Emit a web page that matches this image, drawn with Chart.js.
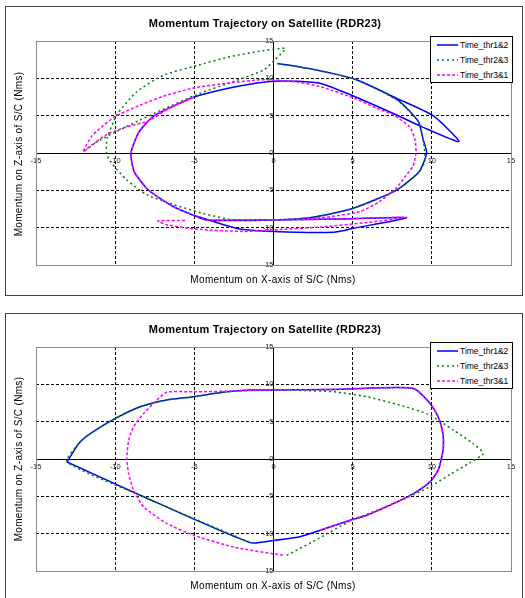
<!DOCTYPE html>
<html>
<head>
<meta charset="utf-8">
<script src="https://cdn.jsdelivr.net/npm/chart.js@4.4.1/dist/chart.umd.min.js"></script>
<style>
body { margin: 0; width: 525px; height: 598px; overflow: hidden; background: #fff; position: relative; font-family: 'Liberation Sans', Arial, sans-serif; }
.frame { position: absolute; border: 1px solid #444; box-sizing: border-box; }
canvas { position: absolute; left: 0; }
.title { position: absolute; left: 0; width: 530px; text-align: center; font-weight: bold; font-size: 11px; letter-spacing: 0.25px; line-height: 12px; }
.xtitle { position: absolute; left: 0; width: 546px; text-align: center; font-size: 10px; letter-spacing: 0.33px; line-height: 12px; }
.ytitle { position: absolute; left: -81px; width: 200px; text-align: center; font-size: 10px; letter-spacing: 0.33px; line-height: 12px; transform: rotate(-90deg); }
.legend { position: absolute; left: 430px; width: 83px; height: 47px; border: 1px solid #000; background: #fff; box-sizing: border-box; font-size: 8.5px; }
.row { position: absolute; left: 6px; height: 10px; width: 76px; }
.row svg { position: absolute; left: 0; top: 3px; }
.lab { position: absolute; left: 23px; top: 0; line-height: 10px; white-space: nowrap; }
</style>
</head>
<body>

<div class="frame" style="left:5px;top:6px;width:518px;height:290px"></div>
<div class="frame" style="left:5px;top:313px;width:518px;height:300px"></div>

<canvas id="chart1" width="525" height="300" style="top:0"></canvas>
<canvas id="chart2" width="525" height="298" style="top:300px"></canvas>

<div class="title" style="top:17px">Momentum Trajectory on Satellite (RDR23)</div>
<div class="xtitle" style="top:274px">Momentum on X-axis of S/C (Nms)</div>
<div class="ytitle" style="top:148px">Momentum on Z-axis of S/C (Nms)</div>

<div class="title" style="top:323px">Momentum Trajectory on Satellite (RDR23)</div>
<div class="xtitle" style="top:580px">Momentum on X-axis of S/C (Nms)</div>
<div class="ytitle" style="top:453px">Momentum on Z-axis of S/C (Nms)</div>

<div class="legend" id="legend1" style="top:36px"></div>
<div class="legend" id="legend2" style="top:342px"></div>

<script>
// series names and styles (shared by both charts)
const seriesNames = ['Time_thr1&2', 'Time_thr2&3', 'Time_thr3&1'];
const seriesColors = ['#0000ff', '#008000', '#ff00ff'];
const seriesDash = [[], [2, 3], [3, 2]];
const tickValues = [-15, -10, -5, 0, 5, 10, 15];

// top chart
const top12X = [0.24, 2.5, 5.15, 7.78, 10.1, 11.72, 9.36, 7.78, 5.15, 2.94, 1.5, 0, -1.5, -3, -5, -6.5, -7.6, -8.5, -9, -8.8, -7.9, -6.4, -5.1, -4.2, 0, 4, 8.4, 5, 3.8, 0, -2.3, -5.1, -4.2, 0, 2.5, 5.04, 7.78, 9.2, 9.67, 9.46, 9.15, 7.78, 5.15, 2.5, 0.24];
const top12Y = [12.0, 11.2, 9.87, 7.32, 4.96, 1.52, 3.53, 5.09, 7.54, 9.33, 9.6, 9.6, 9.2, 8.6, 7.5, 6.1, 4.9, 2.8, 0, -2.5, -4.96, -7.1, -8.3, -8.97, -8.97, -8.85, -8.66, -10.1, -10.6, -10.5, -10.1, -8.3, -8.97, -8.97, -8.6, -7.4, -4.96, -2.5, 0, 1.74, 4.2, 7.2, 9.87, 11.2, 12.0];

const top23X = [-12.0, -11.5, -10.96, -9.9, -8.43, -6.5, -4.64, -2.5, -0.64, 0.1, 0.74, -0.64, -2.75, -4.85, -6.96, -8.64, -9.9, -10.5, -10.55, -10.3, -9.27, -8.0, -6.33, -4.43, -2.75, -1.3, 0, 2.5, 5.04, 7.78, 9.2, 9.57, 9.46, 9.15, 7.78, 5.15, 2.5, 0.24];
const top23Y = [0.2, 1.07, 1.74, 2.9, 4.42, 6.3, 8.0, 9.6, 11.1, 12.5, 14.0, 13.7, 12.9, 11.7, 10.4, 8.2, 5.1, 1.97, 0, -1.16, -3.6, -5.6, -6.9, -8.1, -8.9, -9.0, -9.0, -8.6, -7.4, -4.96, -2.5, -0.94, 1.74, 4.2, 7.1, 9.87, 11.2, 12.0];

const top31X = [1.5, 3.35, 5.46, 6.7, 7.8, 8.3, 8.8, 9.0, 8.94, 8.6, 7.57, 6.5, 5.15, 2.94, 1.5, 0, -0.84, -2.75, -5.07, -6.96, -8.43, -10, -10.85, -11.5, -12.0, -10.6, -9.27, -7.9, -6.5, -5.0, -6.5, -7.6, -8.5, -9, -8.8, -7.9, -6.4, -5.1, -4.2, -2, 0, 4, 8.4, 6, 3, 0, -1.9, -4.85, -6.75, -7.3, -5.5];
const top31Y = [-8.92, -8.6, -7.86, -6.5, -4.6, -3.2, -1.8, 0, 1.74, 3.5, 5.1, 6.0, 7.3, 8.9, 9.5, 9.8, 9.8, 9.4, 8.7, 7.6, 6.4, 4.9, 3.5, 2.2, 0.2, 2.4, 3.5, 4.3, 6.1, 7.5, 6.1, 4.9, 2.8, 0, -2.5, -4.96, -7.1, -8.3, -8.97, -8.97, -8.95, -8.85, -8.6, -9.3, -9.9, -10.3, -10.5, -10.2, -9.6, -9.1, -9.05];

// bottom chart
const bot12X = [-13.04, -12.3, -11.57, -9.99, -8.42, -6.73, -5.05, -2.95, -1.47, 0, 3.79, 5.47, 8.84, 9.89, 10.4, 10.7, 10.73, 10.6, 10.4, 9.89, 8.84, 7.57, 5.89, 4.84, 2.95, 1.68, 0, -1.47, -8.42, -13.04];
const bot12Y = [-0.4, 2.08, 3.4, 5.43, 7.0, 7.9, 8.34, 9.0, 9.23, 9.25, 9.32, 9.45, 9.45, 7.44, 5.65, 3.42, 1.6, 0, -1.5, -3.06, -4.63, -5.97, -7.53, -8.2, -9.54, -10.4, -10.9, -11.2, -4.85, -0.4];

const bot23X = [0.84, 2.9, 4.84, 6.5, 8.4, 9.9, 11.2, 12.4, 13.25, 12.6, 11.36, 9.89, 8.0, 5.89, 3.79, 1.5, 0, -1.47, -2.95, -5.05, -6.73, -8.42, -9.99, -11.57, -12.3, -13.04, -8.42, -1.47];
const bot23Y = [-12.9, -10.6, -8.3, -6.9, -5.2, -3.7, -2.0, -0.5, 0.74, 2.08, 3.87, 5.88, 7.2, 8.34, 9.0, 9.2, 9.23, 9.23, 9.0, 8.34, 7.9, 7.0, 5.43, 3.4, 2.08, -0.4, -4.85, -11.2];

const bot31X = [0.6, -2.5, -5.05, -6.73, -8.2, -8.84, -9.15, -9.26, -9.15, -8.84, -8.2, -7.36, -6.73, -5, -2.5, 0, 3.79, 5.47, 8.84, 9.89, 10.4, 10.7, 10.73, 10.6, 10.4, 9.89, 8.84, 7.57, 5.89, 4.84, 2.95];
const bot31Y = [-12.9, -11.8, -10.2, -8.65, -6.4, -4.18, -1.94, 0, 2.5, 4.3, 6.1, 7.9, 8.95, 9.0, 9.1, 9.25, 9.32, 9.45, 9.45, 7.44, 5.65, 3.42, 1.6, 0, -1.5, -3.06, -4.63, -5.97, -7.53, -8.2, -9.54];

function pts(xs, ys) {
    return xs.map((x, i) => ({x: x, y: ys[i]}));
}

// gray frame around the plot area
const plotFrame = {
    id: 'plotFrame',
    beforeDatasetsDraw(chart) {
        const a = chart.chartArea;
        const ctx = chart.ctx;
        ctx.save();
        ctx.strokeStyle = '#8c8c8c';
        ctx.lineWidth = 1;
        ctx.strokeRect(Math.round(a.left) + 0.5, Math.round(a.top) + 0.5, Math.round(a.right - a.left), Math.round(a.bottom - a.top));
        ctx.restore();
    }
};

function axis(pos) {
    return {
        type: 'linear',
        min: -15,
        max: 15,
        position: pos,
        afterBuildTicks: s => { s.ticks = tickValues.map(v => ({value: v})); },
        grid: {
            drawTicks: false,
            lineWidth: 1,
            color: c => (c.tick && (c.tick.value === 0 || Math.abs(c.tick.value) === 15)) ? 'rgba(0,0,0,0)' : '#000'
        },
        border: {color: '#000', width: 1, dash: [3, 2]},
        ticks: {
            autoSkip: false,
            maxRotation: 0,
            padding: 3,
            color: '#222',
            font: {family: "'Liberation Sans', Arial, sans-serif", size: 7.5}
        }
    };
}

function makeChart(id, series, pad) {
    const datasets = series.map((s, i) => ({
        label: seriesNames[i],
        data: pts(s[0], s[1]),
        showLine: true,
        borderColor: seriesColors[i],
        borderWidth: 1.5,
        borderDash: seriesDash[i],
        pointRadius: 0,
        tension: 0.2,
        fill: false,
        order: 3 - i
    }));
    new Chart(document.getElementById(id), {
        type: 'scatter',
        data: {datasets: datasets},
        options: {
            responsive: false,
            animation: false,
            layout: {padding: pad},
            plugins: {legend: {display: false}, tooltip: {enabled: false}},
            scales: {
                x: axis({y: 0}),
                y: axis({x: 0})
            }
        },
        plugins: [plotFrame]
    });
}

function makeLegend(id) {
    const box = document.getElementById(id);
    seriesNames.forEach((name, i) => {
        const row = document.createElement('div');
        row.className = 'row';
        row.style.top = (3 + i * 15) + 'px';
        const dash = seriesDash[i].length ? ' stroke-dasharray="' + seriesDash[i].join(' ') + '"' : '';
        row.innerHTML = '<svg width="21" height="4"><line x1="0" y1="2" x2="21" y2="2" stroke="' + seriesColors[i] +
            '" stroke-width="1.5"' + dash + '/></svg>' +
            '<div class="lab">' + name.replace('&', '&amp;') + '</div>';
        box.appendChild(row);
    });
}

makeChart('chart1', [[top12X, top12Y], [top23X, top23Y], [top31X, top31Y]], {left: 36, right: 14, top: 41, bottom: 35});
makeChart('chart2', [[bot12X, bot12Y], [bot23X, bot23Y], [bot31X, bot31Y]], {left: 36, right: 14, top: 47, bottom: 27});
makeLegend('legend1');
makeLegend('legend2');
</script>
</body>
</html>
